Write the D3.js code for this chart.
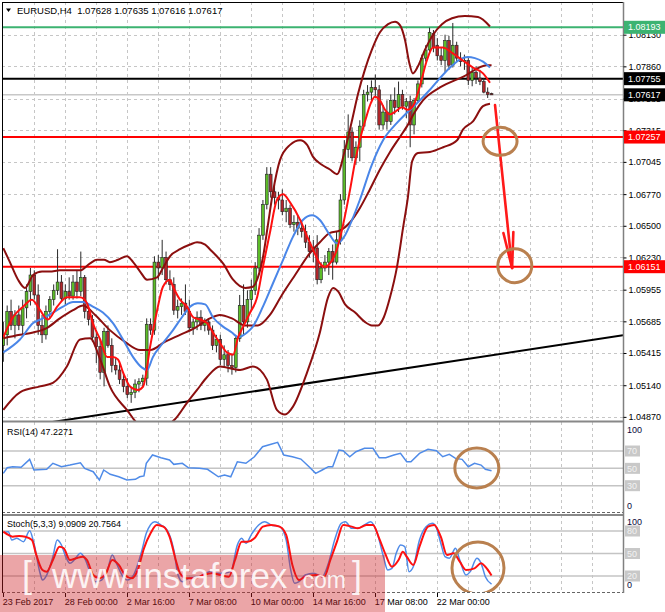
<!DOCTYPE html>
<html><head><meta charset="utf-8">
<script src="https://cdn.jsdelivr.net/npm/d3@7"></script>
<style>
html,body{margin:0;padding:0;background:#fff;}
svg{display:block;font-family:"Liberation Sans",Arial,sans-serif;}
</style></head><body>
<svg id="c" width="665" height="612"></svg>
<script>
// ---------------- DATA ----------------
const chartTitle = "EURUSD,H4  1.07628 1.07635 1.07616 1.07617";
const rsiTitle = "RSI(14) 47.2271";
const stochTitle = "Stoch(5,3,3) 9.0909 20.7564";

// H4 candles: [open, high, low, close]
const ohlc = [
[1.0548,1.0568,1.0534,1.0557],[1.0557,1.0582,1.0548,1.0577],[1.0577,1.0587,1.0561,1.0565],[1.0565,1.0578,1.0554,1.0574],
[1.0574,1.0582,1.0561,1.0565],[1.0565,1.0587,1.0557,1.0580],[1.0580,1.0600,1.0571,1.0594],[1.0594,1.0614,1.0582,1.0608],
[1.0608,1.0612,1.0587,1.0591],[1.0591,1.0600,1.0557,1.0565],[1.0565,1.0574,1.0550,1.0557],[1.0557,1.0582,1.0553,1.0577],
[1.0577,1.0590,1.0571,1.0587],[1.0587,1.0600,1.0582,1.0595],[1.0595,1.0630,1.0591,1.0602],[1.0602,1.0608,1.0585,1.0588],
[1.0588,1.0600,1.0582,1.0594],[1.0594,1.0606,1.0587,1.0590],[1.0590,1.0608,1.0587,1.0602],[1.0602,1.0612,1.0588,1.0594],
[1.0594,1.0628,1.0590,1.0606],[1.0606,1.0608,1.0571,1.0577],[1.0577,1.0582,1.0565,1.0570],[1.0570,1.0574,1.0551,1.0555],
[1.0555,1.0561,1.0533,1.0547],[1.0547,1.0553,1.0519,1.0525],[1.0525,1.0563,1.0513,1.0560],[1.0560,1.0565,1.0546,1.0548],
[1.0548,1.0554,1.0525,1.0531],[1.0531,1.0537,1.0523,1.0527],[1.0527,1.0534,1.0515,1.0519],[1.0519,1.0525,1.0508,1.0513],
[1.0513,1.0520,1.0503,1.0506],[1.0506,1.0512,1.0499,1.0508],[1.0508,1.0519,1.0503,1.0515],[1.0515,1.0520,1.0508,1.0517],
[1.0517,1.0523,1.0512,1.0520],[1.0520,1.0571,1.0514,1.0566],[1.0566,1.0571,1.0557,1.0561],[1.0561,1.0624,1.0557,1.0619],
[1.0619,1.0625,1.0604,1.0614],[1.0614,1.0638,1.0608,1.0623],[1.0623,1.0628,1.0600,1.0604],[1.0604,1.0612,1.0595,1.0600],
[1.0600,1.0606,1.0574,1.0578],[1.0578,1.0587,1.0571,1.0581],[1.0581,1.0588,1.0574,1.0584],[1.0584,1.0600,1.0574,1.0577],
[1.0577,1.0587,1.0560,1.0563],[1.0563,1.0571,1.0557,1.0568],[1.0568,1.0577,1.0561,1.0572],[1.0572,1.0578,1.0561,1.0565],
[1.0565,1.0571,1.0560,1.0568],[1.0568,1.0571,1.0557,1.0561],[1.0561,1.0565,1.0544,1.0548],[1.0548,1.0557,1.0542,1.0553],
[1.0553,1.0557,1.0531,1.0536],[1.0536,1.0548,1.0529,1.0540],[1.0540,1.0544,1.0525,1.0531],[1.0531,1.0540,1.0523,1.0529],
[1.0529,1.0557,1.0525,1.0554],[1.0554,1.0591,1.0551,1.0582],[1.0582,1.0600,1.0557,1.0568],[1.0568,1.0595,1.0563,1.0587],
[1.0587,1.0604,1.0578,1.0595],[1.0595,1.0619,1.0591,1.0614],[1.0614,1.0648,1.0611,1.0642],[1.0642,1.0672,1.0638,1.0668],
[1.0668,1.0700,1.0664,1.0694],[1.0694,1.0700,1.0674,1.0679],[1.0679,1.0685,1.0668,1.0674],[1.0674,1.0679,1.0664,1.0672],
[1.0672,1.0681,1.0659,1.0662],[1.0662,1.0672,1.0653,1.0665],[1.0665,1.0668,1.0648,1.0651],[1.0651,1.0659,1.0645,1.0653],
[1.0653,1.0659,1.0642,1.0648],[1.0648,1.0655,1.0640,1.0645],[1.0645,1.0651,1.0631,1.0636],[1.0636,1.0642,1.0623,1.0628],
[1.0628,1.0638,1.0619,1.0631],[1.0631,1.0642,1.0600,1.0604],[1.0604,1.0619,1.0601,1.0614],[1.0614,1.0625,1.0611,1.0619],
[1.0619,1.0631,1.0608,1.0628],[1.0628,1.0634,1.0604,1.0619],[1.0619,1.0645,1.0617,1.0638],[1.0638,1.0677,1.0634,1.0672],
[1.0672,1.0723,1.0668,1.0715],[1.0715,1.0745,1.0708,1.0730],[1.0730,1.0734,1.0705,1.0708],[1.0708,1.0722,1.0702,1.0717],
[1.0717,1.0740,1.0705,1.0735],[1.0735,1.0766,1.0732,1.0762],[1.0762,1.0770,1.0756,1.0764],[1.0764,1.0774,1.0757,1.0768],
[1.0768,1.0779,1.0759,1.0766],[1.0766,1.0770,1.0732,1.0736],[1.0736,1.0753,1.0732,1.0747],[1.0747,1.0757,1.0732,1.0739],
[1.0739,1.0762,1.0736,1.0757],[1.0757,1.0768,1.0745,1.0751],[1.0751,1.0773,1.0747,1.0762],[1.0762,1.0766,1.0749,1.0752],
[1.0752,1.0759,1.0742,1.0756],[1.0756,1.0761,1.0717,1.0736],[1.0736,1.0759,1.0728,1.0757],[1.0757,1.0774,1.0755,1.0771],
[1.0771,1.0796,1.0768,1.0793],[1.0793,1.0804,1.0790,1.0800],[1.0800,1.0819,1.0797,1.0815],[1.0814,1.0817,1.0798,1.0802],
[1.0804,1.0810,1.0791,1.0795],[1.0795,1.0802,1.0787,1.0791],[1.0791,1.0813,1.0781,1.0808],[1.0808,1.0812,1.0783,1.0787],
[1.0787,1.0823,1.0785,1.0804],[1.0804,1.0807,1.0790,1.0793],[1.0793,1.0798,1.0786,1.0790],[1.0790,1.0796,1.0783,1.0791],
[1.0791,1.0793,1.0770,1.0774],[1.0774,1.0785,1.0769,1.0781],[1.0781,1.0786,1.0771,1.0776],[1.0776,1.0783,1.0770,1.0773],
[1.0773,1.0776,1.0763,1.0764],[1.0764,1.0768,1.0759,1.0762],[1.07628,1.07635,1.07616,1.07617]
];

// indicator lines: [bar index, price]
const bbUpper = [[0,1.0631],[1.7,1.0619],[3.8,1.0604],[5.6,1.0597],[7.7,1.0608],[10,1.0611],[12,1.0611],[14.6,1.0612],[17.2,1.0612],[19.8,1.0612],[22.4,1.0618],[24.2,1.0621],[26,1.0621],[27.5,1.0619],[29.6,1.0621],[31.9,1.0624],[33.5,1.0619],[35.3,1.0611],[37.1,1.0604],[39.7,1.0606],[41.2,1.0614],[43,1.0624],[45.6,1.0630],[48.2,1.0634],[50,1.0636],[52.1,1.0634],[53.3,1.0630],[55.1,1.0624],[56.7,1.0618],[59.3,1.0604],[62.4,1.0597],[64.4,1.0598],[65.7,1.0606],[67,1.0623],[68.3,1.0651],[69.6,1.0679],[71.4,1.0706],[74,1.0719],[76.6,1.0723],[78.4,1.0719],[79.9,1.0709],[82.2,1.0702],[84.3,1.0698],[86.1,1.0694],[88.2,1.0715],[90,1.0740],[91.5,1.0762],[93.3,1.0783],[95.1,1.0800],[97.2,1.0815],[99.3,1.0822],[101.1,1.0824],[102.4,1.0821],[103.7,1.0808],[104.7,1.0790],[105.7,1.0780],[107,1.0786],[108.8,1.0800],[110.9,1.0813],[113.2,1.0822],[115.8,1.0827],[119.1,1.0829],[122.5,1.0828],[125.6,1.0820]];
const bbMiddle = [[0,1.0554],[4.3,1.0557],[7.7,1.0559],[11.3,1.0563],[14.6,1.0571],[18,1.0578],[20.6,1.0582],[23.7,1.0574],[27.5,1.0561],[31.4,1.0551],[35.3,1.0544],[37.9,1.0544],[41.7,1.0551],[45.6,1.0557],[49.5,1.0563],[53.3,1.0571],[55.9,1.0574],[59,1.0571],[62.4,1.0565],[65.7,1.0565],[68.8,1.0574],[71.9,1.0591],[75.3,1.0608],[79.2,1.0627],[81.7,1.0636],[84.3,1.0644],[86.9,1.0646],[89.5,1.0653],[92,1.0665],[94.6,1.0681],[97.2,1.0698],[99.8,1.0713],[102.4,1.0726],[104.2,1.0735],[106.2,1.0747],[108.3,1.0757],[112.7,1.0768],[118.6,1.0777],[124.8,1.0787],[126,1.0787]];
const bbLower = [[0,1.0493],[4.3,1.0508],[9.5,1.0513],[12.8,1.0516],[16.4,1.0530],[19.8,1.0553],[22.4,1.0554],[25,1.0536],[27.5,1.0513],[31.9,1.0493],[35.3,1.0480],[40.4,1.0478],[44.3,1.0485],[47.4,1.0499],[50,1.0510],[52.6,1.0521],[55.9,1.0530],[61.1,1.0527],[64.4,1.0530],[68,1.0519],[70.6,1.0493],[72.7,1.0489],[74.8,1.0496],[78.4,1.0525],[81.7,1.0559],[83.8,1.0589],[85.1,1.0597],[86.4,1.0594],[88.2,1.0583],[90.8,1.0576],[93.3,1.0568],[95.1,1.0565],[96.7,1.0565],[98.2,1.0572],[99.8,1.0589],[101.6,1.0615],[103.2,1.0649],[104.4,1.0674],[105.5,1.0705],[107,1.0712],[110.1,1.0713],[113.5,1.0717],[117.1,1.0723],[118.6,1.0732],[121.2,1.0739],[123.8,1.0752],[125.6,1.0754]];
const maFast = [[0,1.0555],[2.5,1.0572],[5.1,1.0581],[7.4,1.0587],[9.5,1.0578],[11.5,1.0570],[13.9,1.0581],[16.4,1.0589],[19.8,1.0589],[21.6,1.0584],[23.1,1.0567],[25,1.0553],[26.8,1.0538],[28.3,1.0538],[29.6,1.0536],[30.9,1.0525],[32.7,1.0513],[34.8,1.0510],[36.1,1.0513],[37.9,1.0547],[39.7,1.0578],[41.2,1.0598],[43,1.0604],[43.8,1.0598],[45.6,1.0587],[47.4,1.0581],[49,1.0572],[50.8,1.0570],[52.6,1.0567],[54.1,1.0559],[55.9,1.0550],[57.7,1.0542],[59.3,1.0540],[60.6,1.0555],[61.9,1.0564],[63.7,1.0576],[65.5,1.0589],[67,1.0615],[68.8,1.0644],[70.6,1.0672],[72.2,1.0677],[74,1.0670],[76.6,1.0655],[78.4,1.0641],[79.9,1.0630],[81.7,1.0618],[83,1.0615],[84.3,1.0618],[86.1,1.0630],[87.7,1.0651],[89.5,1.0681],[90.8,1.0705],[92,1.0723],[93.6,1.0742],[94.9,1.0755],[95.9,1.0760],[97.2,1.0757],[98.5,1.0749],[99.8,1.0745],[101,1.0747],[102.9,1.0751],[104.4,1.0749],[105.7,1.0752],[107.5,1.0769],[109.3,1.0791],[110.9,1.0802],[113.4,1.0802],[116,1.0797],[118.6,1.0791],[121.2,1.0785],[123.8,1.0780],[125.6,1.0772]];
const maSlow = [[0,1.0542],[4.3,1.0553],[7.7,1.0567],[10.2,1.0571],[12.8,1.0576],[15.4,1.0581],[18,1.0585],[20.6,1.0585],[23.1,1.0581],[25.7,1.0576],[28.3,1.0567],[30.9,1.0553],[33.5,1.0538],[35.8,1.0529],[37.1,1.0527],[38.6,1.0538],[41.2,1.0550],[43.8,1.0561],[46.1,1.0572],[48.2,1.0581],[50.2,1.0584],[52.1,1.0583],[54.1,1.0572],[56.7,1.0564],[59,1.0559],[60.6,1.0555],[62.9,1.0559],[64.4,1.0564],[67,1.0581],[69.6,1.0601],[72.2,1.0621],[74.8,1.0641],[77.3,1.0655],[79.7,1.0659],[81.7,1.0655],[84.3,1.0642],[86.1,1.0635],[88.2,1.0642],[90,1.0655],[92,1.0672],[95.1,1.0702],[98,1.0723],[101.1,1.0736],[103.7,1.0745],[105.7,1.0751],[107.5,1.0757],[110.1,1.0766],[112.7,1.0776],[115.3,1.0785],[117.9,1.0792],[119.9,1.0794],[121.7,1.0793],[123.8,1.0790],[125.6,1.0785]];

// RSI(14): [bar, value]
const rsi = [[0,44.2],[1,50.7],[2.4,51.9],[4.6,51.2],[6.8,60.4],[7.9,48.1],[11.2,48.9],[12.8,55.8],[15,51.9],[17.2,53.8],[19.9,56.5],[21,50],[23.2,46.1],[24.8,36.5],[25.9,48.1],[27.6,43.1],[29.8,40.3],[31.9,36.5],[34.1,37.3],[35.2,40.3],[36.3,41.2],[36.9,55.8],[38.5,65.4],[40.7,62.3],[42.9,59.6],[44,54.6],[46.2,55.8],[47.8,50.7],[50.6,50],[52.7,48.9],[55.5,40.3],[57.1,42.2],[58.7,40.3],[60.4,57.6],[62.6,55.8],[64.8,63.4],[66.9,74.9],[69.1,77.7],[70.8,80],[72.4,65.4],[74.6,63.4],[76.8,60.7],[78.9,51.9],[80.6,44.2],[82.3,48.1],[83.9,51.9],[85,51.9],[86.6,71.1],[87.7,70.3],[89.4,63.4],[91,69.2],[93.2,73.1],[95.4,73.1],[97,62.3],[98.7,62.3],[100.8,65.4],[102.5,67.3],[104.1,57.6],[105.2,57.6],[107.4,67.3],[109.6,71.9],[111.8,70.3],[113.4,63.4],[115.1,66.2],[116.7,61.5],[118.4,60.4],[120,51.9],[121.6,55.8],[123.3,53.8],[124.4,48.9],[126,47.2]];

// Stochastic(5,3,3): [bar, value]
const stochMain = [[0,77.8],[1.3,79.1],[2.2,68],[3.5,70.2],[5.2,65.8],[6.8,80.4],[7.9,63.6],[9.5,23.6],[10.1,14.7],[11.2,21.3],[12.8,45.8],[13.9,68],[15,61.3],[16.1,45.8],[17.2,36.9],[18.3,41.3],[19.9,50.2],[21,43.6],[22.7,21.3],[23.8,12.4],[25.4,14.7],[27,30.2],[28.1,48],[29.2,36.9],[30.9,19.1],[32,14.7],[33.6,21.3],[35.8,54.7],[36.9,76.9],[39.1,92.4],[40.7,88],[42.3,81.3],[44,54.7],[45.1,21.3],[46.2,12.4],[47.8,16.9],[50.6,19.1],[53.3,25.8],[54.9,23.6],[56.6,23.6],[58.7,25.8],[60.4,61.3],[61.5,70.2],[62.6,63.6],[64.2,76.9],[65.9,88],[67.5,92.4],[69.1,88],[71.3,85.8],[73,68],[74.1,30.2],[75.2,10.2],[76.3,12.4],[77.9,21.3],[80.1,23.6],[82.3,19.1],[83.9,36.9],[85.5,68],[87.2,90.2],[88.3,92.4],[89.9,83.6],[91.5,83.6],[93.2,88],[94.8,92.4],[96.5,76.9],[98.1,45.8],[99.2,28],[100.3,30.2],[101.4,50.2],[102.5,61.3],[103.6,59.1],[104.7,25.8],[105.8,32.4],[107.4,68],[109.1,85.8],[110.7,90.2],[111.8,83.6],[112.9,63.6],[114,45.8],[115.1,43.6],[116.7,56.9],[117.8,41.3],[119.4,21.3],[120.5,25.8],[122.2,43.6],[123.3,36.9],[124.4,19.1],[126,9.09]];
const stochSignal = [[0,79.1],[1.3,74.7],[2.4,72.4],[4.1,73.3],[5.7,72.4],[7.4,68],[8.4,50.2],[10.1,28],[11.2,25.8],[12.8,41.3],[14.5,59.1],[15.6,56.9],[17.2,41.3],[18.8,43.6],[20.5,45.8],[21.6,41.3],[23.2,21.3],[24.8,16.9],[26.5,23.6],[28.1,41.3],[29.8,34.7],[31.4,21.3],[33.1,16.9],[34.7,28],[36.3,56.9],[38,76.9],[39.6,88],[41.3,85.8],[42.9,72.4],[44.5,41.3],[45.6,23.6],[47.3,16.9],[49.5,16.9],[51.6,21.3],[53.8,23.6],[56,21.3],[58.2,19.1],[59.8,41.3],[61.5,65.8],[63.1,65.8],[64.8,70.2],[67,85.8],[69.1,88],[71.3,85.8],[73,74.7],[74.6,34.7],[76.3,14.7],[77.9,19.1],[80.6,21.3],[82.8,19.1],[84.4,41.3],[86.1,65.8],[87.7,88],[89.9,85.8],[91.5,83.6],[93.7,88],[95.4,88],[97,70.2],[98.7,48],[100.3,32.4],[102,41.3],[103.1,52.4],[104.1,45.8],[105.8,34.7],[107.4,59.1],[109.6,85.8],[111.2,88],[112.9,72.4],[114.5,48],[116.2,50.2],[117.8,39.1],[119.4,28],[121.6,30.2],[123.3,36.9],[124.4,32.4],[126,20.76]];

// horizontal levels
const levelPrices = [1.08193, 1.07755, 1.07617, 1.07257, 1.06151];
const levelLabels = ["1.08193", "1.07755", "1.07617", "1.07257", "1.06151"];
// trend line anchors [bar, price]
const trendAnchors = [[16.4, 1.04845], [84.3, 1.05186]];
// forecast arrow [bar, price]
const arrowFrom = [126.9, 1.0753];
const arrowTo = [131.3, 1.0614];
// marked zones: [bar, value]
const mainMarks = [[128.2, 1.0722], [132, 1.0616]];
const rsiMark = [122.2, 50.4];
const stochMark = [122.5, 30.7];

// axes
const priceTicks = [1.04870, 1.05140, 1.05415, 1.05685, 1.05955, 1.06230, 1.06500, 1.06770, 1.07045, 1.07315, 1.07585, 1.07860, 1.08130];
const rsiLevels = [70, 50, 30];
const stochLevels = [80, 50, 20];
const timeLabels = ["23 Feb 2017", "28 Feb 00:00", "2 Mar 16:00", "7 Mar 08:00", "10 Mar 00:00", "14 Mar 16:00", "17 Mar 08:00", "22 Mar 00:00"];
const timeLabelBars = [0, 16, 32, 48, 64, 80, 96, 112];

// ---------------- DRAW ----------------
const FONT = "'Liberation Sans', Arial, sans-serif";
const svg = d3.select("#c");
const M = {l: 2, r: 623, t: 2, b: 421};
const RP = {t: 422, b: 512};
const SP = {t: 515, b: 592};

const xS = d3.scaleLinear().domain([0, 160]).range([3.3, 623.3]);
const yP = d3.scaleLinear().domain([1.06151, 1.08193]).range([266.7, 27.3]);
const yR = d3.scaleLinear().domain([0, 100]).range([511.7, 425]);
const yS = d3.scaleLinear().domain([0, 100]).range([591, 516]);
const px = v => Math.round(v) + 0.5;

svg.append("rect").attr("width", 665).attr("height", 612).attr("fill", "#fff");
const defs = svg.append("defs");
function clip(id, t, b) {
  defs.append("clipPath").attr("id", id).append("rect")
    .attr("x", M.l).attr("y", t).attr("width", M.r - M.l).attr("height", b - t);
}
clip("cm", M.t, M.b); clip("cr", RP.t, RP.b); clip("cs", SP.t, SP.b);

// vertical grid
const gridBars = d3.range(8, 160, 8);
[[M.t, M.b], [RP.t, RP.b], [SP.t, SP.b]].forEach(([t, b]) => {
  svg.append("g").selectAll("line").data(gridBars).join("line")
    .attr("x1", d => px(xS(d))).attr("x2", d => px(xS(d)))
    .attr("y1", t).attr("y2", b)
    .attr("stroke", "#c6c6c6").attr("stroke-dasharray", "3,3");
});
// horizontal price grid
svg.append("g").selectAll("line").data(priceTicks).join("line")
  .attr("x1", M.l).attr("x2", M.r)
  .attr("y1", d => px(yP(d))).attr("y2", d => px(yP(d)))
  .attr("stroke", "#c6c6c6").attr("stroke-dasharray", "3,3");
// indicator levels
svg.append("g").selectAll("line").data(rsiLevels).join("line")
  .attr("x1", M.l).attr("x2", M.r).attr("y1", d => yR(d)).attr("y2", d => yR(d))
  .attr("stroke", "#c4c4c4").attr("stroke-width", 1.5);
svg.append("g").selectAll("line").data(stochLevels).join("line")
  .attr("x1", M.l).attr("x2", M.r).attr("y1", d => yS(d)).attr("y2", d => yS(d))
  .attr("stroke", "#c4c4c4").attr("stroke-width", 1.5);

// main panel content (clipped)
const gm = svg.append("g").attr("clip-path", "url(#cm)");
const levelColors = ["#3cb371", "#000000", "#c8c8c8", "#ff0000", "#ff0000"];
const levelWidths = [2, 2, 1.5, 2, 2];
gm.selectAll("line.lvl").data(levelPrices).join("line").attr("class", "lvl")
  .attr("x1", M.l).attr("x2", M.r).attr("y1", d => yP(d)).attr("y2", d => yP(d))
  .attr("stroke", (d, i) => levelColors[i]).attr("stroke-width", (d, i) => levelWidths[i]);

// trend line (ray across the panel)
{
  const [a, b] = trendAnchors.map(p => [xS(p[0]), yP(p[1])]);
  const k = (b[1] - a[1]) / (b[0] - a[0]);
  gm.append("line").attr("x1", M.l).attr("y1", a[1] + k * (M.l - a[0]))
    .attr("x2", M.r).attr("y2", a[1] + k * (M.r - a[0]))
    .attr("stroke", "#000").attr("stroke-width", 2);
}

// candles
const cg = gm.append("g");
ohlc.forEach((d, i) => {
  const [o, h, l, c] = d;
  const x = xS(i);
  cg.append("line").attr("x1", x).attr("x2", x).attr("y1", yP(h)).attr("y2", yP(l))
    .attr("stroke", "#2a2a2a").attr("stroke-width", 1);
  const top = yP(Math.max(o, c)), bot = yP(Math.min(o, c));
  cg.append("rect").attr("x", x - 1.4).attr("width", 2.8)
    .attr("y", top).attr("height", Math.max(1, bot - top))
    .attr("fill", c >= o ? "#5cbd28" : "#b3262b")
    .attr("stroke", "#222").attr("stroke-width", 0.6);
});

const lineP = d3.line().x(d => xS(d[0])).y(d => yP(d[1])).curve(d3.curveMonotoneX);
[[bbUpper, "#8b0f0f"], [bbLower, "#8b0f0f"], [bbMiddle, "#8b0f0f"], [maSlow, "#4a86e8"], [maFast, "#ff1010"]]
  .forEach(([data, col]) => {
    gm.append("path").attr("d", lineP(data)).attr("fill", "none")
      .attr("stroke", col).attr("stroke-width", 2).attr("stroke-linejoin", "round");
  });

// forecast arrow
{
  const s = [xS(arrowFrom[0]), yP(arrowFrom[1])];
  const t = [xS(arrowTo[0]), yP(arrowTo[1])];
  const th = Math.atan2(s[1] - t[1], s[0] - t[0]);
  const L = 36, A = 8 * Math.PI / 180;
  const ag = gm.append("g").attr("stroke", "#ff1a1a").attr("stroke-width", 2.6).attr("stroke-linecap", "round").attr("fill", "none");
  ag.append("line").attr("x1", s[0]).attr("y1", s[1]).attr("x2", t[0]).attr("y2", t[1]);
  [th - A, th + A].forEach(a => {
    ag.append("line").attr("x1", t[0]).attr("y1", t[1])
      .attr("x2", t[0] + L * Math.cos(a)).attr("y2", t[1] + L * Math.sin(a));
  });
}
const markColor = "#b9804f";
const mainRadii = [[17, 14], [17, 17]];
mainMarks.forEach((m, i) => {
  gm.append("ellipse").attr("cx", xS(m[0])).attr("cy", yP(m[1]))
    .attr("rx", mainRadii[i][0]).attr("ry", mainRadii[i][1])
    .attr("fill", "none").attr("stroke", markColor).attr("stroke-width", 3);
});

// RSI
const gr = svg.append("g").attr("clip-path", "url(#cr)");
gr.append("path").attr("d", d3.line().x(d => xS(d[0])).y(d => yR(d[1]))(rsi))
  .attr("fill", "none").attr("stroke", "#4f8be8").attr("stroke-width", 1.5);
gr.append("ellipse").attr("cx", xS(rsiMark[0])).attr("cy", yR(rsiMark[1])).attr("rx", 22).attr("ry", 20)
  .attr("fill", "none").attr("stroke", markColor).attr("stroke-width", 3);

// Stochastic
const gs = svg.append("g").attr("clip-path", "url(#cs)");
gs.append("path").attr("d", d3.line().x(d => xS(d[0])).y(d => yS(d[1])).curve(d3.curveMonotoneX)(stochMain))
  .attr("fill", "none").attr("stroke", "#4f8be8").attr("stroke-width", 1.5);
gs.append("path").attr("d", d3.line().x(d => xS(d[0])).y(d => yS(d[1])).curve(d3.curveMonotoneX)(stochSignal))
  .attr("fill", "none").attr("stroke", "#ff1010").attr("stroke-width", 2);
gs.append("ellipse").attr("cx", xS(stochMark[0])).attr("cy", yS(stochMark[1])).attr("rx", 26).attr("ry", 26)
  .attr("fill", "none").attr("stroke", markColor).attr("stroke-width", 3);

// panel frames
svg.append("rect").attr("x", M.l + 0.5).attr("y", M.t + 0.5).attr("width", M.r - M.l).attr("height", M.b - M.t)
  .attr("fill", "none").attr("stroke", "#000");
svg.append("line").attr("x1", M.l).attr("x2", M.r).attr("y1", 421.5).attr("y2", 421.5).attr("stroke", "#888").attr("stroke-width", 2);
svg.append("line").attr("x1", M.l).attr("x2", M.r).attr("y1", 512.5).attr("y2", 512.5).attr("stroke", "#666").attr("stroke-dasharray", "3,2");
svg.append("line").attr("x1", M.l).attr("x2", M.r).attr("y1", 515).attr("y2", 515).attr("stroke", "#888").attr("stroke-width", 2);
svg.append("line").attr("x1", M.l).attr("x2", M.r).attr("y1", 592.5).attr("y2", 592.5).attr("stroke", "#666").attr("stroke-dasharray", "3,2");
svg.append("line").attr("x1", 2.5).attr("x2", 2.5).attr("y1", 2).attr("y2", 593).attr("stroke", "#000");
svg.append("line").attr("x1", 623.5).attr("x2", 623.5).attr("y1", 2).attr("y2", 593).attr("stroke", "#808080").attr("stroke-width", 1.5);

// price axis
const ax = svg.append("g").attr("transform", "translate(623.5,0)")
  .call(d3.axisRight(yP).tickValues(priceTicks).tickSize(3).tickFormat(d3.format(".5f")));
ax.select(".domain").remove();
ax.selectAll("line").attr("stroke", "#000");
ax.selectAll("text").attr("font-size", 9).attr("font-family", FONT).attr("fill", "#000").attr("x", 5);

// level label boxes
const boxColors = ["#3cb371", "#000000", "#000000", "#ff0000", "#ff0000"];
const lb = svg.append("g");
levelPrices.forEach((p, i) => {
  const y = yP(p);
  lb.append("rect").attr("x", 624).attr("y", y - 6.5).attr("width", 41).attr("height", 13).attr("fill", boxColors[i]);
  lb.append("text").attr("x", 628).attr("y", y).attr("dy", "0.35em").attr("font-size", 9)
    .attr("font-family", FONT).attr("fill", "#fff").text(levelLabels[i]);
});

// indicator axis labels
function levelBox(y, txt) {
  svg.append("rect").attr("x", 625).attr("y", y - 5.5).attr("width", 15).attr("height", 11).attr("fill", "#c8c8c8");
  svg.append("text").attr("x", 627).attr("y", y).attr("dy", "0.35em").attr("font-size", 9)
    .attr("font-family", FONT).attr("fill", "#f2f2f2").text(txt);
}
function plainLabel(y, txt) {
  svg.append("text").attr("x", 627).attr("y", y).attr("dy", "0.35em").attr("font-size", 9)
    .attr("font-family", FONT).attr("fill", "#0a0a3c").text(txt);
}
rsiLevels.forEach(v => levelBox(yR(v), String(v)));
plainLabel(yR(100) + 5, "100"); plainLabel(yR(0) - 5.5, "0");
stochLevels.forEach(v => levelBox(yS(v), String(v)));
plainLabel(yS(100) + 5.5, "100"); plainLabel(yS(0) - 6, "0");

// titles
svg.append("path").attr("d", "M6,8.5 L11,8.5 L8.5,12 Z").attr("fill", "#000");
svg.append("text").attr("x", 17).attr("y", 13.5).attr("font-size", 9.5).attr("font-family", FONT)
  .attr("fill", "#000").attr("xml:space", "preserve").style("white-space", "pre").text(chartTitle);
svg.append("text").attr("x", 7).attr("y", 435).attr("font-size", 9).attr("font-family", FONT).attr("fill", "#000").text(rsiTitle);
svg.append("text").attr("x", 7).attr("y", 527).attr("font-size", 9).attr("font-family", FONT).attr("fill", "#000").text(stochTitle);

// time axis
const tg = svg.append("g");
timeLabelBars.forEach((b, i) => {
  const x = px(xS(b));
  tg.append("line").attr("x1", x).attr("x2", x).attr("y1", 593).attr("y2", 597).attr("stroke", "#000");
  tg.append("text").attr("x", Math.max(2, xS(b) - 0.5)).attr("y", 605).attr("font-size", 9)
    .attr("font-family", FONT).attr("fill", "#000").text(timeLabels[i]);
});

// watermark
const wm = svg.append("g");
wm.append("rect").attr("x", 0).attr("y", 555).attr("width", 385).attr("height", 57).attr("fill", "rgba(205,30,35,0.40)");
const wmFill = "rgba(255,255,255,0.88)";
wm.append("text").attr("x", 22).attr("y", 587).attr("font-size", 36).attr("font-family", FONT).attr("font-weight", 300).attr("fill", wmFill).text("[");
wm.append("text").attr("x", 52).attr("y", 588).attr("font-size", 35).attr("font-family", FONT).attr("fill", wmFill).text("www.instaforex");
wm.append("text").attr("x", 296).attr("y", 588).attr("font-size", 23).attr("font-family", FONT).attr("fill", wmFill).text(".com");
wm.append("text").attr("x", 352).attr("y", 587).attr("font-size", 36).attr("font-family", FONT).attr("font-weight", 300).attr("fill", wmFill).text("]");
</script>
</body></html>
